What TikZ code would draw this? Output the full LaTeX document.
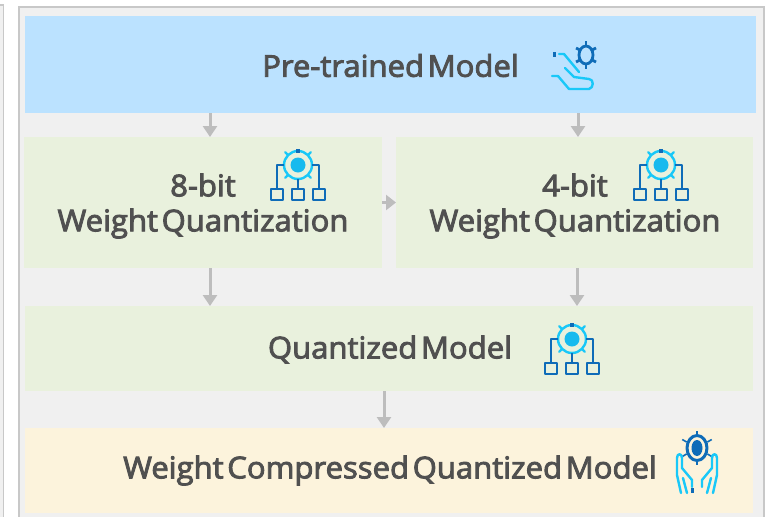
\documentclass[tikz,border=0pt]{standalone}
\usepackage{fontspec}
\usetikzlibrary{arrows.meta}
\setmainfont{Open Sans}[FakeBold=3,FakeStretch=1.035,WordSpace=0.45]
\definecolor{textgray}{HTML}{505050}
\definecolor{panelgray}{HTML}{F0F0F0}
\definecolor{framegray}{HTML}{C8C8C8}
\definecolor{arrowgray}{HTML}{BDBDBD}
\definecolor{skyblue}{HTML}{BBE2FF}
\definecolor{palegreen}{HTML}{E9F1DD}
\definecolor{paleyellow}{HTML}{FCF3DC}
\definecolor{iconcyan}{HTML}{19C8F8}
\definecolor{iconblue}{HTML}{0F6CB8}
\tikzset{
  boxdecorate/.style={shape=rectangle,inner sep=0pt,outer sep=0pt},
  textdecorate/.style={inner sep=0pt,align=center,text=textgray,font=\fontsize{30}{35}\selectfont},
  linedecorate/.style={line width=3pt,arrowgray,-{Triangle[width=14pt,length=11pt]}},
  smalldecorate/.style={line width=2.4pt,arrowgray,-{Triangle[width=15pt,length=10pt]}},
  cyanline/.style={line width=2.4pt,iconcyan,line cap=round,line join=round},
  blueline/.style={line width=2.8pt,iconblue,line join=round},
  netpic/.pic={
    \draw[cyanline] (0,0) circle (14);
    \fill[iconcyan!85!iconblue] (0,0) circle (7.5);
    \fill[iconblue] (-2,-16) rectangle (2,-12);
    \foreach \ang in {135,45,-45,-135} {
      \draw[cyanline] (\ang:14) -- (\ang:18);
    }
    \draw[blueline,line width=1.8pt] (-14,0) -- (-21,0) -- (-21,23);
    \draw[blueline,line width=1.8pt] (14,0) -- (21,0) -- (21,23);
    \draw[blueline] (0,14) -- (0,24);
    \foreach \boxx in {-21,0,21} {
      \draw[blueline] (\boxx-6,24) rectangle (\boxx+6,35);
    }
  },
  bugpic/.pic={
    \draw[blueline] (0,0) ellipse (7 and 9);
    \foreach \startx/\starty/\endx/\endy in {0/-9/0/-14, 0/9/0/14, -6/-5/-10/-7, 6/-5/10/-7, -6/5/-10/7, 6/5/10/7} {
      \draw[blueline] (\startx,\starty) -- (\endx,\endy);
    }
  },
  handpic/.pic={
    \fill[iconblue] (-32,-2.5) rectangle (-29,2.5);
    \draw[cyanline] (-26,0) -- (-21,0) -- (-6,18);
    \draw[cyanline] (-20,14) -- (-11,23) -- (4,25) .. controls (9,25) and (9,34) .. (4,35) -- (-16,35) -- (-27,22) -- (-33,22);
  },
  carepic/.pic={
    \draw[blueline,line width=3pt] (0,0) ellipse (10 and 12.5);
    \fill[iconblue] (0,0) ellipse (5.5 and 8);
    \foreach \ang in {90,-90,30,150,210,330} {
      \draw[blueline,line width=1.6pt] (\ang:12) -- (\ang:17);
    }
    \foreach \flip in {1,-1} {
      \begin{scope}[xscale=\flip]
        \draw[cyanline] (-16,45) -- (-20,27) -- (-20,10) .. controls (-20,5) and (-15,5) .. (-15,10) -- (-15,20) -- (-5,32) -- (-5,39);
        \draw[cyanline] (-10,45) -- (-14,30);
      \end{scope}
    }
    \fill[iconblue] (-6,40) rectangle (-3,45);
  }
}
\begin{document}
\begin{tikzpicture}[x=1pt,y=-1pt]
\useasboundingbox (0,0) rectangle (772,517);
%% frames behind the boxes
\fill[panelgray] (0,5) rectangle (3,517);
\fill[framegray] (0,4) rectangle (4,6);
\fill[framegray] (2.5,4) rectangle (4,517);
\fill[panelgray] (18,6) rectangle (765,517);
\fill[framegray] (18,6) rectangle (765,8);
\fill[framegray] (18,6) rectangle (20,517);
\fill[framegray] (763,6) rectangle (765,517);
%% boxes
\foreach \nodename/\x/\y/\w/\h/\boxcolor in {
  pretrained/390.5/64.5/731/97/skyblue,
  eightbit/203/202.5/358/131/palegreen,
  fourbit/574.5/202.5/357/131/palegreen,
  quantized/389/348.5/728/85/palegreen,
  compressed/389/470.5/728/85/paleyellow} {
  \node (\nodename) at (\x,\y) [boxdecorate,fill=\boxcolor,minimum width=\w pt,minimum height=\h pt] {};
}
%% labels
\node (pretrainedtext) at (390.5,65.5) [textdecorate] {Pre-trained Model};
\node (eightbittext) at (203,206) [textdecorate] {8-bit\\Weight Quantization};
\node (fourbittext) at (575,206) [textdecorate] {4-bit\\Weight Quantization};
\node (quantizedtext) at (390,349.5) [textdecorate] {Quantized Model};
\node (compressedtext) at (390,470.5) [textdecorate] {Weight Compressed Quantized Model};
%% icons
\pic at (586,55) {bugpic};
\pic at (585,54) {handpic};
\pic at (298,165) {netpic};
\pic at (661,165) {netpic};
\pic at (572,339) {netpic};
\pic at (697,448) {carepic};
%% arrows
\path
\foreach \startnode/\endnode/\shiftstart/\shiftend in {
  pretrained/eightbit/-180.5/7,
  pretrained/fourbit/187.5/3.5,
  eightbit/quantized/7/-179,
  fourbit/quantized/2.5/188,
  quantized/compressed/-5/-5} {
  ([xshift=\shiftstart pt]\startnode.south) edge[linedecorate] ([xshift=\shiftend pt]\endnode.north)
};
\draw[smalldecorate] (eightbit.east) -- (fourbit.west);
\end{tikzpicture}
\end{document}
